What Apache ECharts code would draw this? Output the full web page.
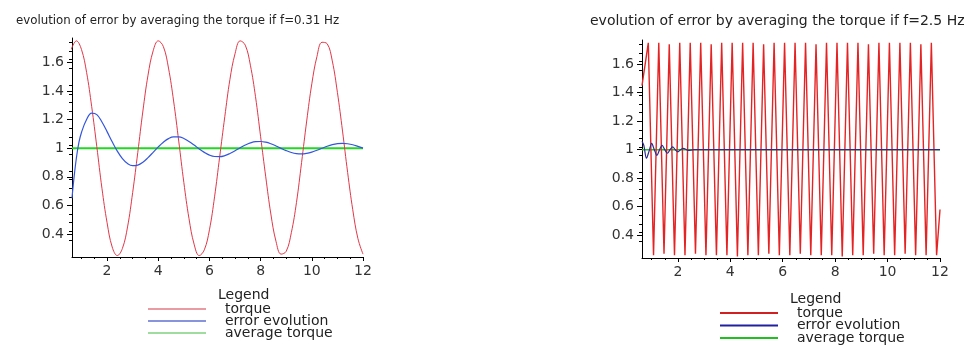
<!DOCTYPE html>
<html>
<head>
<meta charset="utf-8">
<script src="https://cdn.jsdelivr.net/npm/echarts@6/dist/echarts.min.js"></script>
<style>
  html, body { margin: 0; padding: 0; background: #fff; }
  #chart { width: 973px; height: 349px; }
</style>
</head>
<body>
<div id="chart"></div>
<script>
///////////////////////////////////////////////////
// Data
///////////////////////////////////////////////////
var xTicks = [2, 4, 6, 8, 10, 12];
var yTicks = [0.4, 0.6, 0.8, 1, 1.2, 1.4, 1.6];
var seriesNames = ['torque', 'error evolution', 'average torque'];

// left panel, f = 0.31 Hz
var leftTime = [0.6, 0.8, 1.0, 1.2, 1.4, 1.6, 1.8, 2.0, 2.2, 2.4,
  2.6, 2.8, 3.0, 3.2, 3.4, 3.6, 3.8, 4.0, 4.2, 4.4,
  4.6, 4.8, 5.0, 5.2, 5.4, 5.6, 5.8, 6.0, 6.2, 6.4,
  6.6, 6.8, 7.0, 7.2, 7.4, 7.6, 7.8, 8.0, 8.2, 8.4,
  8.6, 8.8, 9.0, 9.2, 9.4, 9.6, 9.8, 10.0, 10.2, 10.4,
  10.6, 10.8, 11.0, 11.2, 11.4, 11.6, 11.8, 12.0];
var leftTorque = [1.69, 1.75, 1.69, 1.53, 1.29, 1.01, 0.72, 0.48, 0.31, 0.25,
  0.30, 0.45, 0.69, 0.97, 1.26, 1.51, 1.68, 1.75, 1.71, 1.56,
  1.33, 1.05, 0.76, 0.51, 0.33, 0.25, 0.29, 0.43, 0.66, 0.94,
  1.22, 1.48, 1.66, 1.75, 1.72, 1.58, 1.36, 1.08, 0.80, 0.54,
  0.35, 0.26, 0.28, 0.41, 0.62, 0.90, 1.19, 1.45, 1.64, 1.74,
  1.73, 1.61, 1.39, 1.12, 0.83, 0.57, 0.37, 0.26];
var leftErrTime = [0.63, 0.7, 0.8, 0.9, 1.0, 1.2, 1.4,
  1.6, 1.8, 2.0, 2.2, 2.4, 2.6, 2.8, 3.0, 3.2, 3.4,
  3.6, 3.8, 4.0, 4.2, 4.4, 4.6, 4.8, 5.0, 5.2, 5.4,
  5.6, 5.8, 6.0, 6.2, 6.4, 6.6, 6.8, 7.0, 7.2, 7.4,
  7.6, 7.8, 8.0, 8.2, 8.4, 8.6, 8.8, 9.0, 9.2, 9.4,
  9.6, 9.8, 10.0, 10.2, 10.4, 10.6, 10.8, 11.0, 11.2, 11.4,
  11.6, 11.8, 12.0];
var leftError = [0.65, 0.78, 0.93, 1.04, 1.11, 1.20, 1.245,
  1.235, 1.183, 1.116, 1.045, 0.980, 0.928, 0.893, 0.878, 0.882, 0.902,
  0.934, 0.971, 1.009, 1.042, 1.067, 1.079, 1.079, 1.068, 1.047, 1.022,
  0.995, 0.971, 0.952, 0.942, 0.941, 0.948, 0.963, 0.982, 1.003, 1.022,
  1.037, 1.046, 1.047, 1.042, 1.031, 1.016, 0.999, 0.983, 0.970, 0.962,
  0.960, 0.964, 0.973, 0.986, 1.000, 1.014, 1.025, 1.032, 1.034, 1.031,
  1.024, 1.013, 1.001];
var avgTime = [0.63, 12];
var avgTorque = [1, 1];

// right panel, f = 2.5 Hz
var rightTime = [0.63, 0.87, 1.07, 1.27, 1.47, 1.67, 1.87, 2.07, 2.27, 2.47,
  2.67, 2.87, 3.07, 3.27, 3.47, 3.67, 3.87, 4.07, 4.27, 4.47,
  4.67, 4.87, 5.07, 5.27, 5.47, 5.67, 5.87, 6.07, 6.27, 6.47,
  6.67, 6.87, 7.07, 7.27, 7.47, 7.67, 7.87, 8.07, 8.27, 8.47,
  8.67, 8.87, 9.07, 9.27, 9.47, 9.67, 9.87, 10.07, 10.27, 10.47,
  10.67, 10.87, 11.07, 11.27, 11.47, 11.67, 11.87, 12.0];
var rightTorque = [1.45, 1.75, 0.26, 1.75, 0.27, 1.74, 0.26, 1.75, 0.26, 1.75,
  0.27, 1.75, 0.26, 1.74, 0.26, 1.75, 0.26, 1.75, 0.25, 1.75,
  0.26, 1.75, 0.26, 1.74, 0.27, 1.75, 0.26, 1.75, 0.26, 1.75,
  0.27, 1.75, 0.26, 1.74, 0.26, 1.75, 0.26, 1.75, 0.25, 1.75,
  0.26, 1.75, 0.26, 1.74, 0.27, 1.75, 0.26, 1.75, 0.26, 1.75,
  0.27, 1.75, 0.26, 1.74, 0.26, 1.75, 0.26, 0.58];
var rightErrTime = [0.63, 0.7, 0.8, 0.9, 1.0, 1.1, 1.2, 1.3, 1.4, 1.5,
  1.6, 1.7, 1.8, 1.9, 2.0, 2.1, 2.2, 2.4, 2.6, 12.0];
var rightError = [1.06, 1.03, 0.94, 0.99, 1.045, 1.0, 0.96, 1.0, 1.03, 1.0,
  0.975, 1.0, 1.02, 1.0, 0.985, 1.0, 1.01, 0.995, 1.0, 1.0];

///////////////////////////////////////////////////
// helpers
///////////////////////////////////////////////////
function pairs(xs, ys) {
  return xs.map(function (x, i) { return [x, ys[i]]; });
}
var FONT = '"DejaVu Sans", Verdana, sans-serif';

function xAxisFor(gridIndex) {
  return {
    type: 'value', gridIndex: gridIndex, min: 0.63, max: 12,
    axisLine: { show: true, onZero: false, lineStyle: { color: '#000', width: 1 } },
    axisTick: { show: true, length: 4, customValues: xTicks, lineStyle: { color: '#000' } },
    minorTick: { show: true, splitNumber: 4, length: 2, lineStyle: { color: '#000' } },
    axisLabel: { customValues: xTicks, margin: 7, fontSize: 14, color: '#333', fontFamily: FONT },
    splitLine: { show: false }
  };
}
function yAxisFor(gridIndex) {
  return {
    type: 'value', gridIndex: gridIndex, min: 0.24, max: 1.77,
    axisLine: { show: true, lineStyle: { color: '#000', width: 1 } },
    axisTick: { show: true, length: 5, customValues: yTicks, lineStyle: { color: '#000' } },
    minorTick: { show: true, splitNumber: 5, length: 3, lineStyle: { color: '#000' } },
    axisLabel: { customValues: yTicks, margin: 8, fontSize: 14, color: '#333', fontFamily: FONT },
    splitLine: { show: false }
  };
}
function lineSeries(name, idx, data, color, width, z) {
  return {
    name: name, type: 'line', xAxisIndex: idx, yAxisIndex: idx,
    data: data, showSymbol: false, symbol: 'none', z: z,
    lineStyle: { color: color, width: width }, itemStyle: { color: color },
    emphasis: { disabled: true }, animation: false
  };
}
function legendFor(left, top, colors, height, gap) {
  return {
    orient: 'vertical', left: left, top: top, padding: 0, itemGap: gap,
    itemWidth: 58, itemHeight: height, icon: 'rect', selectedMode: false,
    textStyle: { fontSize: 14, lineHeight: 12, color: '#222', fontFamily: FONT, padding: [0, 0, 0, 14] },
    data: seriesNames.map(function (n, i) { return { name: n, itemStyle: { color: colors[i] } }; })
  };
}

///////////////////////////////////////////////////
// chart
///////////////////////////////////////////////////
var myChart = echarts.init(document.getElementById('chart'), null, { renderer: 'canvas' });
myChart.setOption({
  backgroundColor: '#fff',
  animation: false,
  title: [
    { text: 'evolution of error by averaging the torque if f=0.31 Hz', left: 11, top: 10,
      textStyle: { fontSize: 11.8, fontWeight: 'normal', color: '#222', fontFamily: FONT } },
    { text: 'evolution of error by averaging the torque if f=2.5 Hz', left: 585, top: 9,
      textStyle: { fontSize: 14, fontWeight: 'normal', color: '#222', fontFamily: FONT } },
    { text: 'Legend', left: 213, top: 283,
      textStyle: { fontSize: 14, fontWeight: 'normal', color: '#222', fontFamily: FONT } },
    { text: 'Legend', left: 785, top: 287,
      textStyle: { fontSize: 14, fontWeight: 'normal', color: '#222', fontFamily: FONT } }
  ],
  grid: [
    { left: 72, right: 610, top: 38, bottom: 92 },
    { left: 642, right: 33, top: 40, bottom: 91 }
  ],
  xAxis: [xAxisFor(0), xAxisFor(1)],
  yAxis: [yAxisFor(0), yAxisFor(1)],
  legend: [
    legendFor(148, 302, ['#e07a80', '#6070d0', '#7fd07f'], 1.5, -2),
    legendFor(720, 306, ['#d02020', '#2020a0', '#20c020'], 2, -1.5)
  ],
  series: [
    lineSeries(seriesNames[2], 0, pairs(avgTime, avgTorque), '#22d822', 2, 1),
    lineSeries(seriesNames[0], 0, pairs(leftTime, leftTorque), '#e03848', 1, 2),
    lineSeries(seriesNames[1], 0, pairs(leftErrTime, leftError), '#3355dd', 1.2, 3),
    lineSeries(seriesNames[2], 1, pairs(avgTime, avgTorque), '#22c822', 1.5, 1),
    lineSeries(seriesNames[0], 1, pairs(rightTime, rightTorque), '#e42424', 1.4, 2),
    lineSeries(seriesNames[1], 1, pairs(rightErrTime, rightError), '#2a2a90', 1.2, 3)
  ]
});
// smooth the slow curves
myChart.setOption({ series: [{}, { smooth: 0.4 }, { smooth: 0.4 }, {}, {}, { smooth: 0.3 }] });
</script>
</body>
</html>
